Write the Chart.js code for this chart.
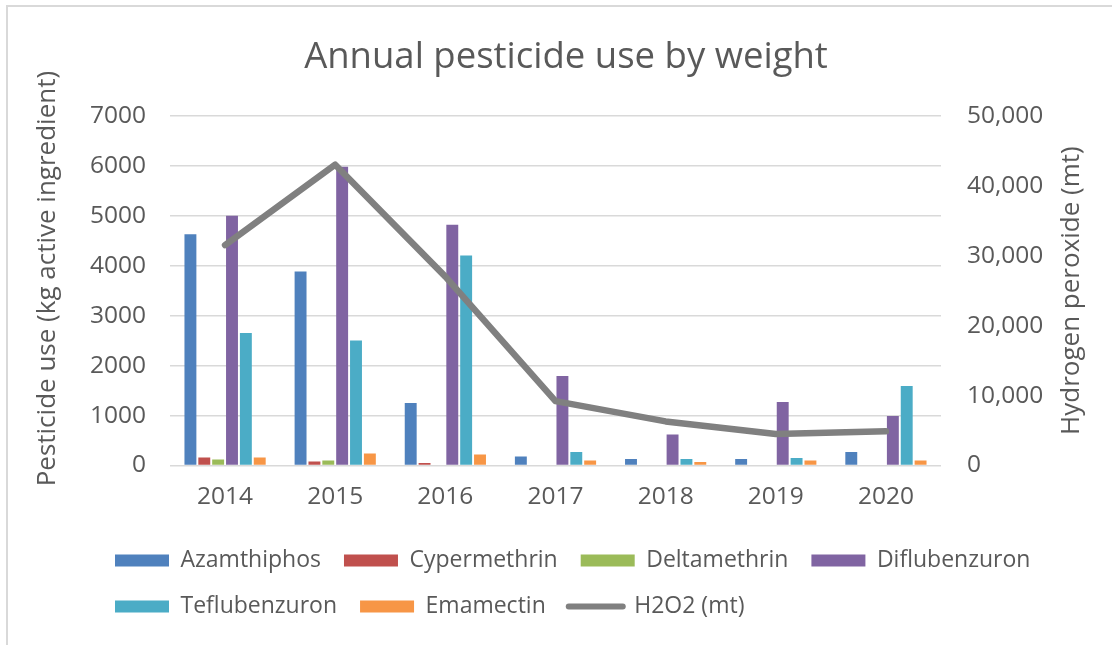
<!DOCTYPE html>
<html><head><meta charset="utf-8">
<script src="https://cdn.jsdelivr.net/npm/chart.js@4"></script>
<style>
html,body{margin:0;padding:0;background:#fff;}
#wrap{position:relative;width:1112px;height:645px;overflow:hidden;background:#fff;}
#frame{position:absolute;left:6px;top:5px;width:1300px;height:900px;border:2px solid #d9d9d9;box-sizing:border-box;}
canvas{position:absolute;left:0;top:0;}
</style></head><body>
<div id="wrap"><div id="frame"></div><canvas id="c" width="1112" height="645"></canvas></div>
<script>
// ---- data ----
const years = ['2014', '2015', '2016', '2017', '2018', '2019', '2020'];
const azamthiphos   = [4630, 3880, 1250, 180, 130, 130, 270];
const cypermethrin  = [160, 80, 50, 0, 0, 0, 0];
const deltamethrin  = [120, 100, 0, 0, 0, 0, 0];
const diflubenzuron = [5000, 5980, 4820, 1790, 620, 1270, 990];
const teflubenzuron = [2650, 2500, 4200, 270, 130, 150, 1590];
const emamectin     = [160, 240, 220, 100, 70, 100, 100];
const h2o2          = [31500, 43000, 27000, 9200, 6300, 4500, 4900];
const leftTicks  = [0, 1000, 2000, 3000, 4000, 5000, 6000, 7000];
const rightTicks = [0, 10000, 20000, 30000, 40000, 50000];
const chartTitle = 'Annual pesticide use by weight';
const leftTitle  = 'Pesticide use (kg active ingredient)';
const rightTitle = 'Hydrogen peroxide (mt)';

const TXT = '#595959';
const GRID = '#d9d9d9';
const FONT = "'Open Sans', sans-serif";
Chart.defaults.font.family = FONT;
Chart.defaults.color = TXT;

const barSeries = [
  ['Azamthiphos', azamthiphos, '#4F81BD'],
  ['Cypermethrin', cypermethrin, '#C0504D'],
  ['Deltamethrin', deltamethrin, '#9BBB59'],
  ['Diflubenzuron', diflubenzuron, '#8064A2'],
  ['Teflubenzuron', teflubenzuron, '#4BACC6'],
  ['Emamectin', emamectin, '#F79646']
];
const datasets = barSeries.map(([label, data, color]) => ({
  type: 'bar', label, data, backgroundColor: color, borderWidth: 0,
  yAxisID: 'y', order: 1, categoryPercentage: 0.755, barPercentage: 0.86
}));
datasets.push({
  type: 'line', label: 'H2O2 (mt)', data: h2o2, yAxisID: 'y1', order: 0,
  borderColor: '#808080', backgroundColor: '#808080', borderWidth: 6.5,
  pointRadius: 0, tension: 0, borderJoinStyle: 'round', borderCapStyle: 'round'
});

const LEGEND_LEFT = 92;
const legendShift = {
  id: 'legendShift',
  afterLayout(chart) {
    const lg = chart.legend;
    if (lg) { const w = lg.right - lg.left; lg.left = LEGEND_LEFT; lg.right = LEGEND_LEFT + w; }
  }
};

// vertical axis titles (both read bottom-to-top, as in the reference)
const axisTitles = {
  id: 'axisTitles',
  afterDraw(chart) {
    const ctx = chart.ctx;
    const ca = chart.chartArea;
    const midY = (ca.top + ca.bottom) / 2;
    ctx.save();
    ctx.fillStyle = TXT;
    ctx.font = "26px " + FONT;
    ctx.textAlign = 'center';
    ctx.textBaseline = 'middle';
    [[leftTitle, 48, midY - 12], [rightTitle, 1072, midY]].forEach(([t, x, y]) => {
      ctx.save(); ctx.translate(x, y); ctx.rotate(-Math.PI / 2); ctx.fillText(t, 0, 0); ctx.restore();
    });
    ctx.restore();
  }
};

new Chart(document.getElementById('c'), {
  data: { labels: years, datasets },
  plugins: [legendShift, axisTitles],
  options: {
    responsive: false, animation: false,
    layout: { padding: { top: 0, bottom: 17, left: 20, right: 0 } },
    plugins: {
      tooltip: { enabled: false },
      title: {
        display: true, text: chartTitle, color: TXT,
        font: { size: 36.5, weight: 'normal' }, padding: { top: 35.6, bottom: 36.3 }
      },
      legend: {
        position: 'bottom', align: 'start',
        labels: {
          font: { size: 23 }, color: TXT, padding: 23,
          usePointStyle: true, pointStyleWidth: 54, boxHeight: 12,
          sort: (a, b) => a.datasetIndex - b.datasetIndex,
          generateLabels(chart) {
            const items = Chart.defaults.plugins.legend.labels.generateLabels(chart);
            items.forEach(it => {
              const ds = chart.data.datasets[it.datasetIndex];
              if (ds.type === 'line') {
                it.pointStyle = 'line'; it.strokeStyle = '#808080'; it.lineWidth = 6; it.lineCap = 'round';
              } else {
                it.pointStyle = 'rect'; it.lineWidth = 0;
              }
            });
            return items;
          }
        }
      }
    },
    scales: {
      x: {
        grid: { display: false }, border: { display: false },
        ticks: { font: { size: 24.5 }, color: TXT, padding: 9 },
        afterFit(s) { s.height = 60.5; }
      },
      y: {
        position: 'left', min: 0, max: 7000,
        afterBuildTicks(s) { s.ticks = leftTicks.map(v => ({ value: v })); },
        grid: { color: GRID, lineWidth: 1.5, drawTicks: false },
        border: { display: false },
        ticks: { font: { size: 24.5 }, color: TXT, padding: 24, callback: v => String(v) },
        afterFit(s) { s.width = 150; }
      },
      y1: {
        position: 'right', min: 0, max: 50000,
        afterBuildTicks(s) { s.ticks = rightTicks.map(v => ({ value: v })); },
        grid: { display: false, drawTicks: false }, border: { display: false },
        ticks: { font: { size: 24.5 }, color: TXT, padding: 26,
                 callback: v => v.toLocaleString('en-US') },
        afterFit(s) { s.width = 171; }
      }
    }
  }
});
</script>
</body></html>
